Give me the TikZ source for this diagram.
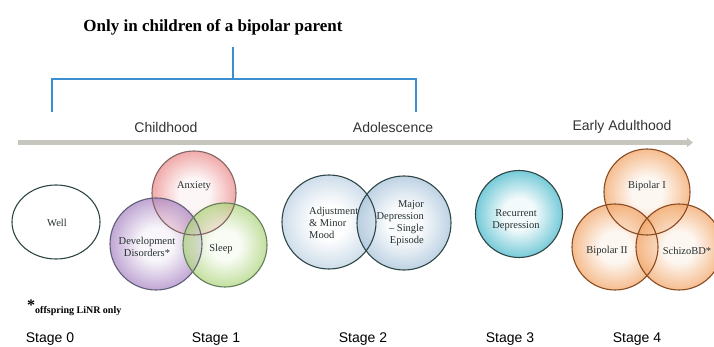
\documentclass[tikz,border=0pt]{standalone}
\usepackage{fontspec}
\setmainfont{Liberation Serif}
\setsansfont{Liberation Sans}
\usetikzlibrary{arrows.meta,shapes.geometric}

\definecolor{bracketblue}{HTML}{3B8FD0}
\definecolor{timeline}{HTML}{C6C6BE}
\definecolor{labelgray}{HTML}{333333}
\definecolor{inktext}{HTML}{263030}
\definecolor{rimdark}{HTML}{2F4646}
\definecolor{anxout}{HTML}{EC8A8A}
\definecolor{devout}{HTML}{A985C4}
\definecolor{sleepout}{HTML}{ACD47A}
\definecolor{depout}{HTML}{A6C2DA}
\definecolor{recout}{HTML}{5EC2D2}
\definecolor{bipout}{HTML}{F2A464}
\definecolor{biprim}{HTML}{8A4A22}

% radial shading that keeps the middle pale and brightens towards the rim
\makeatletter
\pgfdeclareradialshading[tikz@radial@inner,tikz@radial@outer]{rimglow}{\pgfpoint{0bp}{0bp}}{%
  color(0bp)=(tikz@radial@inner);
  color(9bp)=(tikz@radial@inner);
  color(25bp)=(tikz@radial@outer);
  color(50bp)=(tikz@radial@outer)}
\makeatother

\tikzset{
  venn/.style={circle, inner sep=0pt, minimum size=#1, fill opacity=0.72},
  glow/.style 2 args={inner color=#1, outer color=#2, shading=rimglow},
  rim/.style={draw=#1, line width=1.1pt},
  intext/.style={font=\fontsize{10.5}{12}\selectfont, text=inktext, inner sep=0pt},
  era/.style={font=\sffamily\fontsize{14}{16}\selectfont, text=labelgray, inner sep=0pt},
  stagelbl/.style={font=\sffamily\fontsize{14}{16}\selectfont, text=black, inner sep=0pt},
  bracket/.style={draw=bracketblue, line width=1.5pt}
}

\begin{document}
\begin{tikzpicture}[x=1pt, y=-1pt]
\useasboundingbox (0,0) rectangle (714,347);
\fill[white] (0,0) rectangle (714,347);

% heading and the bracket spanning childhood and adolescence
\node[font=\bfseries\fontsize{17}{20}\selectfont, inner sep=0pt] (title) at (213,27) {Only in children of a bipolar parent};
\coordinate (brtop) at (233,47);
\coordinate (brmid) at (233,79);
\coordinate (brl) at (52,79);
\coordinate (brr) at (416,79);
\coordinate (brlend) at (52,112);
\coordinate (brrend) at (416,112);
\draw[bracket] (brtop) -- (brmid);
\draw[bracket] (brlend) -- (brl) -- (brr) -- (brrend);

% age periods and the time line
\node[era] (child) at (166,127) {Childhood};
\node[era] (adol) at (393,127) {Adolescence};
\node[era] (adult) at (622,127) {Early Adulthood};
\coordinate (tlstart) at (18,142.5);
\coordinate (tlend) at (693,142.5);
\draw[timeline, line width=4.5pt, -{Triangle[length=6pt, width=9pt]}] (tlstart) -- (tlend);

\begin{scope}
\clip (0,0) rectangle (714,347);

% stage 0
\node[ellipse, draw=rimdark, line width=1.1pt, minimum width=88pt, minimum height=74pt, fill=white] (well) at (56,222) {};

% stage 1
\node[venn=84pt, glow={anxout!10}{anxout}] (anx) at (194,193) {};
\node[venn=92pt, glow={devout!10}{devout}] (dev) at (156,244) {};
\node[venn=84pt, glow={sleepout!10}{sleepout}] (sleep) at (225,245) {};
\draw[rim=anxout!45!rimdark] (anx.center) circle[radius=42pt];
\draw[rim=devout!40!rimdark] (dev.center) circle[radius=46pt];
\draw[rim=sleepout!40!rimdark] (sleep.center) circle[radius=42pt];

% stage 2
\node[venn=94pt, glow={white}{depout!75}] (adj) at (329,222) {};
\node[venn=94pt, glow={depout!8}{depout}] (mdd) at (404,223) {};
\draw[rim=rimdark] (adj.center) circle[radius=47pt];
\draw[rim=rimdark] (mdd.center) circle[radius=47pt];

% stage 3
\node[venn=87pt, glow={recout!8}{recout}, fill opacity=0.85] (rec) at (519,214) {};
\draw[rim=rimdark] (rec.center) circle[radius=43.5pt];

% stage 4
\node[venn=86pt, glow={bipout!12}{bipout}] (bp1) at (647,192) {};
\node[venn=86pt, glow={bipout!12}{bipout}] (bp2) at (615,247) {};
\node[venn=86pt, glow={bipout!12}{bipout}] (szbd) at (679,247) {};
\draw[rim=biprim] (bp1.center) circle[radius=43pt];
\draw[rim=biprim] (bp2.center) circle[radius=43pt];
\draw[rim=biprim] (szbd.center) circle[radius=43pt];
\end{scope}

% circle labels
\node[intext] (twell) at (57,223) {Well};
\node[intext] (tanx) at (194,186) {Anxiety};
\node[intext, align=center] (tdev) at (147,247) {Development\\Disorders*};
\node[intext] (tsleep) at (221,249) {Sleep};
\node[intext, align=left, anchor=west] (tadj) at (309,223) {Adjustment\\\& Minor\\Mood};
\node[intext, align=right, anchor=east] (tmdd) at (424,223) {Major\\Depression\\– Single\\Episode};
\node[intext, align=center] (trec) at (516,220) {Recurrent\\Depression};
\node[intext] (tbp1) at (647,186) {Bipolar I};
\node[intext] (tbp2) at (607,251) {Bipolar II};
\node[intext] (tszbd) at (687,251) {SchizoBD*};

% footnote
\node[font=\bfseries\fontsize{10}{12}\selectfont, anchor=base west, inner sep=0pt] (foot) at (27,313)
  {\raisebox{0.5ex}{\fontsize{16}{16}\selectfont*}offspring LiNR only};

% stage names
\node[stagelbl] (s0) at (50,339) {Stage 0};
\node[stagelbl] (s1) at (216,339) {Stage 1};
\node[stagelbl] (s2) at (363,339) {Stage 2};
\node[stagelbl] (s3) at (510,339) {Stage 3};
\node[stagelbl] (s4) at (637,339) {Stage 4};
\end{tikzpicture}
\end{document}
